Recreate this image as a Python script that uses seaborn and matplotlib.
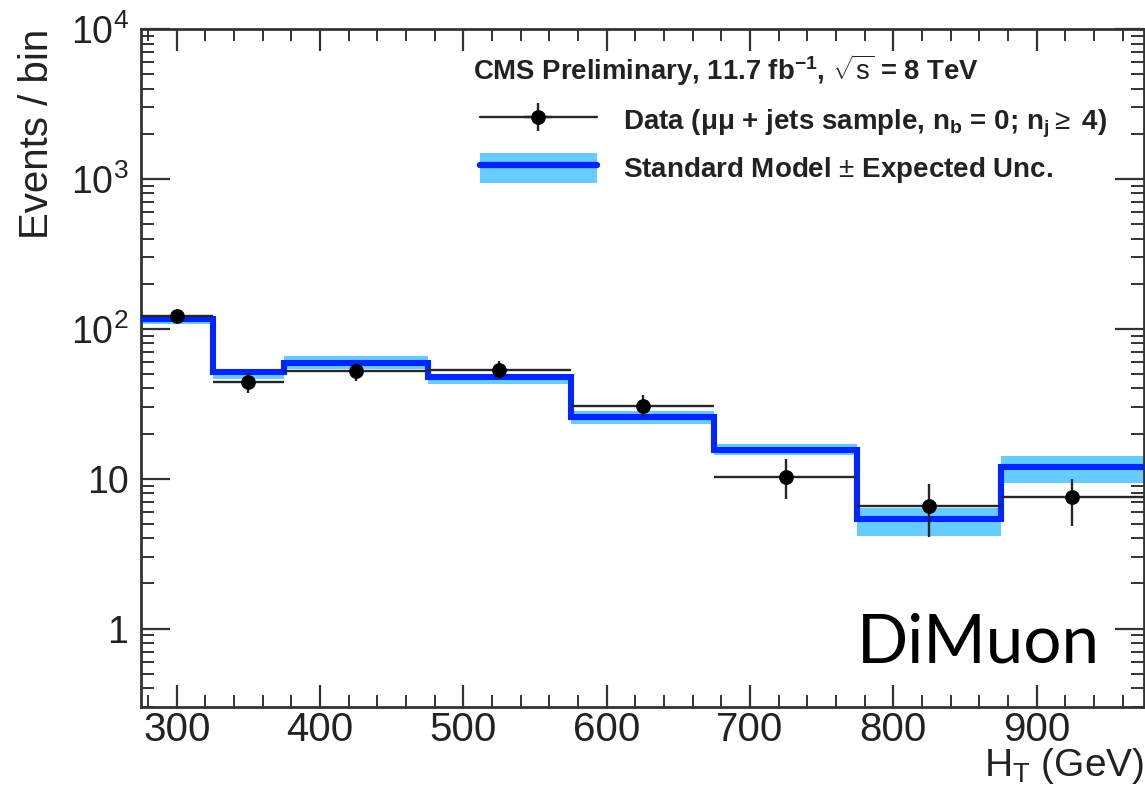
import numpy as np
import pandas as pd
import seaborn as sns
import matplotlib
matplotlib.use("Agg")
import matplotlib.pyplot as plt
from matplotlib.ticker import MultipleLocator, LogLocator, FixedLocator, FixedFormatter, NullFormatter
from matplotlib.lines import Line2D
from matplotlib.patches import Patch

# ---- data ----
bin_edges = [275, 325, 375, 475, 575, 675, 775, 875, 975]
sm_values = [116.7, 51.3, 59.0, 47.5, 26.0, 15.5, 5.4, 11.9]
sm_low = [107.0, 46.3, 54.0, 43.0, 23.2, 14.4, 4.15, 9.4]
sm_high = [122.0, 53.5, 66.0, 50.0, 28.4, 17.0, 6.4, 14.2]
data_x = [300, 350, 425, 525, 625, 725, 825, 925]
data_y = [122.0, 44.0, 52.0, 53.5, 30.7, 10.3, 6.6, 7.55]
data_err_low = [11.0, 6.6, 7.2, 7.3, 5.0, 3.0, 2.5, 2.75]
data_err_high = [11.0, 6.6, 7.2, 7.3, 5.3, 3.2, 2.6, 2.35]
ytick_vals = [1, 10, 100, 1000, 10000]
ytick_labels = ["1", "10", r"$10^2$", r"$10^3$", r"$10^4$"]
xtick_vals = [300, 400, 500, 600, 700, 800, 900]

sns.set_theme(style="ticks")
plt.rcParams["font.family"] = ["Liberation Sans", "DejaVu Sans"]
plt.rcParams["mathtext.fontset"] = "custom"
plt.rcParams["mathtext.rm"] = "Liberation Sans"
plt.rcParams["mathtext.it"] = "Liberation Sans"
plt.rcParams["mathtext.bf"] = "Liberation Sans:bold"

W, H = 1145, 790
fig = plt.figure(figsize=(W / 100, H / 100), dpi=100)
ax = fig.add_axes([141 / W, (H - 707) / H, 1003 / W, 678 / H])

band_col = "#66ccff"
line_col = "#0026ff"
ink = "#222222"

edges = np.array(bin_edges)
lo = np.append(sm_low, sm_low[-1])
hi = np.append(sm_high, sm_high[-1])
ax.fill_between(edges, lo, hi, step="post", color=band_col, lw=0, zorder=1)
ax.stairs(sm_values, edges, baseline=None, color=line_col, lw=4.4, zorder=3)

centers = np.array(data_x)
xerr_l = centers - edges[:-1]
xerr_h = edges[1:] - centers
eb = ax.errorbar(data_x, data_y, xerr=[xerr_l, xerr_h],
                 yerr=[data_err_low, data_err_high], fmt="o", color="black",
                 markersize=9.6, ecolor="#262626", elinewidth=1.7, zorder=5)
df = pd.DataFrame({"x": data_x, "y": data_y})
sns.scatterplot(data=df, x="x", y="y", ax=ax, color="black", s=92,
                edgecolor="black", linewidth=0, zorder=6, legend=False)

ax.set_yscale("log")
ax.set_xlim(275, 975)
ax.set_ylim(0.3, 1e4)

ax.xaxis.set_major_locator(FixedLocator(xtick_vals))
ax.xaxis.set_minor_locator(MultipleLocator(20))
ax.yaxis.set_major_locator(FixedLocator(ytick_vals))
ax.yaxis.set_major_formatter(FixedFormatter(ytick_labels))
ax.yaxis.set_minor_locator(LogLocator(base=10, subs=np.arange(2, 10)))
ax.yaxis.set_minor_formatter(NullFormatter())

ax.tick_params(axis="both", which="both", direction="in", top=True, right=True,
               colors="#333333", labelcolor=ink)
ax.tick_params(axis="x", which="major", length=16, width=1.6, labelsize=29, pad=3)
ax.tick_params(axis="x", which="minor", length=8.5, width=1.4)
ax.tick_params(axis="y", which="major", length=21, width=1.6, labelsize=27, pad=9)
ax.tick_params(axis="y", which="minor", length=9.5, width=1.4)
for s in ax.spines.values():
    s.set_linewidth(2.0)
    s.set_color("#333333")

ax.set_xlabel(r"H$_\mathrm{T}$ (GeV)", fontsize=28, loc="right", color=ink)
ax.xaxis.set_label_coords(1.0, -0.057)
ax.xaxis.label.set_va("top")
ax.set_ylabel("Events / bin", fontsize=29, loc="top", color=ink)
ax.yaxis.set_label_coords(-0.085, 1.0)

# legend
h_data = (Line2D([0], [0], color="#262626", lw=1.7), eb)
h_sm = (Patch(facecolor=band_col, edgecolor="none"), Line2D([0], [0], color=line_col, lw=4.6))
leg = ax.legend([h_data, h_sm],
                [r"Data ($\mathbf{\mu\mu}$ + jets sample, n$_\mathbf{b}$ = 0; n$_\mathbf{j}$$\geq$ 4)",
                 r"Standard Model $\pm$ Expected Unc."],
                loc="upper left", bbox_to_anchor=(480 / W, (H - 105) / H),
                bbox_transform=fig.transFigure, frameon=False,
                prop={"size": 20, "weight": "bold"}, handlelength=4.2, handleheight=1.25,
                labelspacing=0.5, handletextpad=0.94, borderaxespad=0, borderpad=0)
for t in leg.get_texts():
    t.set_color(ink)
fig.text(473 / W, (H - 70) / H,
         r"CMS Preliminary, 11.7 fb$^{\mathbf{-1}}$, $\sqrt{\mathrm{s}}$ = 8 TeV",
         fontsize=19.8, fontweight="bold", ha="left", va="center", color=ink)

ax.text(0.956, 0.066, "DiMuon", transform=ax.transAxes, fontsize=48.5, family="Lato",
        ha="right", va="baseline", color="black")

fig.savefig("out.png", dpi=100)
